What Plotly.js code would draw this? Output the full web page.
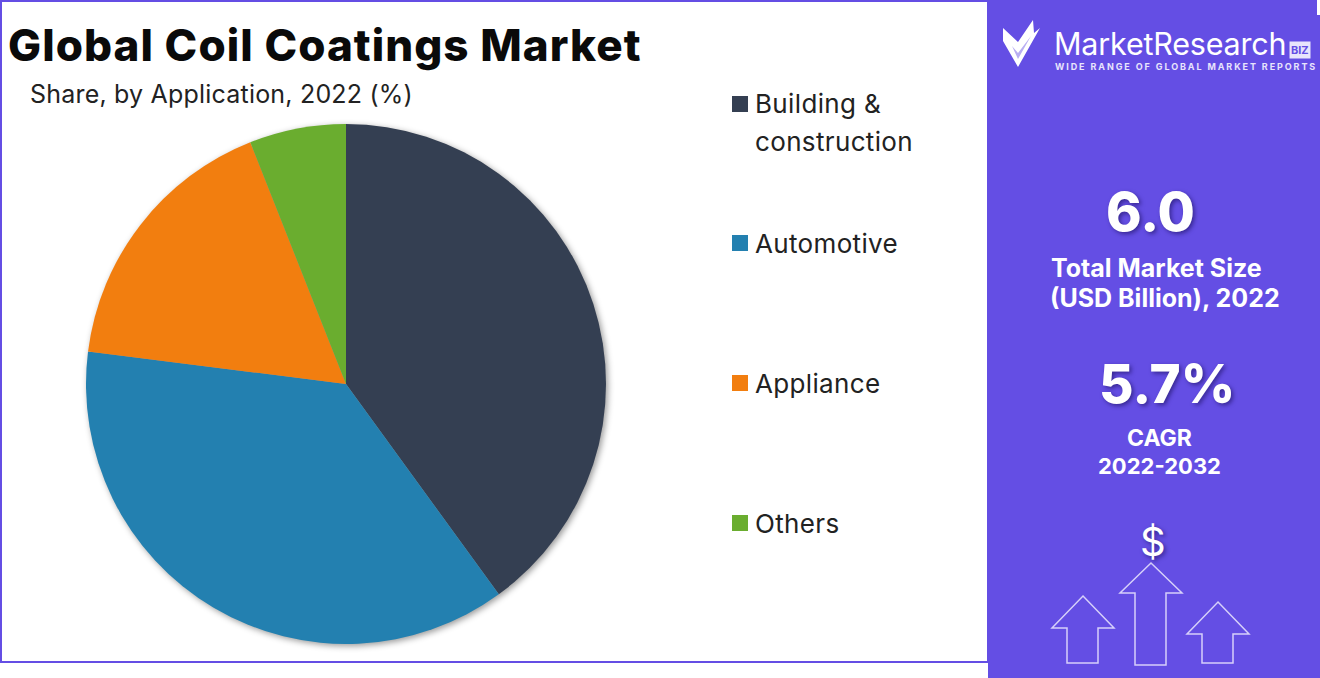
<!DOCTYPE html>
<html><head><meta charset="utf-8">
<script src="https://cdn.plot.ly/plotly-3.0.1.min.js"></script>
<style>html,body{margin:0;padding:0;background:#fff;overflow:hidden}#c{width:1320px;height:678px}
.pielayer{filter:drop-shadow(2px 2px 3px rgba(0,0,0,.4))}
.annotation[data-index="0"] text{letter-spacing:1.05px}
.annotation[data-index="1"] text{letter-spacing:.2px}
.annotation[data-index="2"] text,.annotation[data-index="3"] text,.annotation[data-index="4"] text,.annotation[data-index="5"] text,.annotation[data-index="6"] text{letter-spacing:.35px}
.annotation[data-index="7"] text{letter-spacing:-.2px}
.annotation[data-index="9"] text{letter-spacing:1.9px}
</style>
</head><body><div id="c"></div>
<script>
const categories=["Building & construction","Automotive","Appliance","Others"];
const legendLines=[["Building &","construction"],["Automotive"],["Appliance"],["Others"]];
const shares=[40,37,17,6];
const colors=["#343f52","#2380b0","#f27e0f","#6aad2f"];
const titleText="Global Coil Coatings Market";
const subtitleText="Share, by Application, 2022 (%)";
const sizeValue="6.0",sizeLabel=["Total Market Size","(USD Billion), 2022"];
const cagrValue="5.7%",cagrLabel=["CAGR","2022-2032"];
const W=1320,H=678,FONT="Inter, 'Open Sans', sans-serif",PURPLE="#644ee4";
const fx=x=>x/W, fy=y=>1-y/H;
const rect=(x0,y0,x1,y1,fill,line)=>({type:"rect",xref:"paper",yref:"paper",x0:fx(x0),x1:fx(x1),y0:fy(y0),y1:fy(y1),fillcolor:fill,line:line||{width:0},layer:"below"});
const pathOf=pts=>"M"+pts.map(p=>fx(p[0])+","+fy(p[1])).join(" L")+" Z";
const poly=(pts,fill,line)=>({type:"path",xref:"paper",yref:"paper",path:pathOf(pts),fillcolor:fill,line:line||{width:0},layer:"above"});
const arrow=(cx,top,wing,bottom)=>poly([[cx,top],[cx+31,wing],[cx+15,wing],[cx+15,bottom],[cx-16,bottom],[cx-16,wing],[cx-31,wing]],"rgba(0,0,0,0)",{color:"#d6d0fa",width:1.5});
const txt=(text,x,y,size,opts)=>Object.assign({text,x:fx(x),y:fy(y),xref:"paper",yref:"paper",showarrow:false,xanchor:"left",yanchor:"middle",align:"left",font:{family:FONT,size,color:"#111"}},opts||{});
const white=(size,weight,shadow)=>({family:FONT,size,color:"#fff",weight,shadow:shadow?"2px 2px 4px rgba(20,10,80,.55)":"none"});

const shapes=[
 rect(0,0,989,663,"#ffffff",{width:0}),
 rect(1,1,988,662,"#ffffff",{color:PURPLE,width:2}),
 rect(988,0,1320,678,PURPLE),
 rect(1317,0,1320,15,"#ffffff"),
 poly([[1003,28],[1018,42],[1033,20],[1034,33],[1040,28],[1018,67],[1003,41]],"#ffffff"),
 poly([[1012,46],[1018,53],[1031,36],[1018,59]],"#b9aef2"),
 arrow(1083,596,628,663),arrow(1151,563,593,665),arrow(1218,602,634,663)
];
const annotations=[
 txt(titleText,6,45,44,{font:{family:FONT,size:44,color:"#0a0a0a",weight:800}}),
 txt(subtitleText,28,94,25,{font:{family:FONT,size:25,color:"#222"}})
];
const legendY=[[104,141],[243],[383],[523]];
legendLines.forEach((ls,i)=>{
 shapes.push(rect(732,legendY[i][0]-8,748,legendY[i][0]+8,colors[i]));
 ls.forEach((l,j)=>annotations.push(txt(l,753,legendY[i][j],26,{font:{family:FONT,size:26,color:"#222"}})));
});
annotations.push(
 txt("MarketResearch",1052,43,30.5,{font:{family:FONT,size:30.5,color:"#fff",weight:400}}),
 txt("BIZ",1300,50,11,{xanchor:"center",font:{family:FONT,size:11,color:PURPLE,weight:700},bgcolor:"#e8e4fc",borderpad:1}),
 txt("WIDE RANGE OF GLOBAL MARKET REPORTS",1053,66.5,9,{font:{family:FONT,size:9,color:"#e8e4fc",weight:700}}),
 txt(sizeValue,1150,212,54,{xanchor:"center",font:white(54,800,true)}),
 txt(sizeLabel[0],1156,268,25,{xanchor:"center",font:white(25,700)}),
 txt(sizeLabel[1],1165,298,25,{xanchor:"center",font:white(25,700)}),
 txt(cagrValue,1167,384,53,{xanchor:"center",font:white(53,800,true)}),
 txt(cagrLabel[0],1159,438,23,{xanchor:"center",font:white(23,700)}),
 txt(cagrLabel[1],1159,466,22,{xanchor:"center",font:white(22,700)}),
 txt("$",1153,541,40,{xanchor:"center",font:white(40,400,true)})
);
const data=[{type:"pie",labels:categories,values:shares,sort:false,direction:"clockwise",rotation:0,
 marker:{colors},textinfo:"none",hole:0,
 domain:{x:[fx(86),fx(606)],y:[fy(644),fy(124)]},
 hovertemplate:"%{label}: %{value}%<extra></extra>"}];
const layout={width:W,height:H,margin:{l:0,r:0,t:0,b:0,pad:0},showlegend:false,paper_bgcolor:"#fff",font:{family:FONT},shapes,annotations};
Plotly.newPlot("c",data,layout,{displayModeBar:false,responsive:false});
</script></body></html>
